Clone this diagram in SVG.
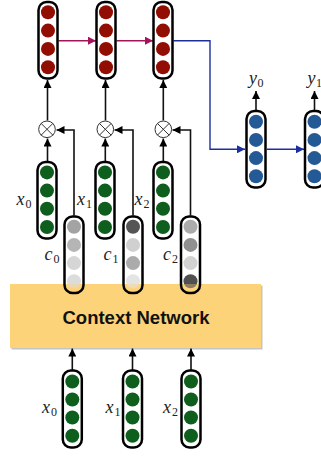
<svg xmlns="http://www.w3.org/2000/svg" width="321" height="457" viewBox="0 0 321 457">
<style>
.col{fill:none;stroke:#000;stroke-width:2.5}
.colw{fill:#fff;stroke:#000;stroke-width:2.5}
.r{fill:#920d02}
.g{fill:#0e5e1d}
.b{fill:#235995}
.k{fill:none;stroke:#111;stroke-width:1.6}
.rl{fill:none;stroke:#a3145a;stroke-width:1.4}
.bl{fill:none;stroke:#1c2f9e;stroke-width:1.4}
.lbl{font-family:"Liberation Serif","DejaVu Serif","Times New Roman",serif;font-style:italic;font-size:18px;fill:#222}
.sub{font-style:normal;font-size:12px}
.title{font-family:"Liberation Sans",Arial,sans-serif;font-weight:bold;font-size:18.5px;fill:#111}
.ot{fill:#fff;stroke:#333;stroke-width:1}
</style>
<defs>
<marker id="ak" markerUnits="userSpaceOnUse" markerWidth="8" markerHeight="8" refX="8" refY="4" orient="auto"><path d="M0,0 L8,4 L0,8 z" fill="#000"/></marker>
<marker id="ar" markerUnits="userSpaceOnUse" markerWidth="8" markerHeight="8" refX="8" refY="4" orient="auto"><path d="M0,0 L8,4 L0,8 z" fill="#a3145a"/></marker>
<marker id="ab" markerUnits="userSpaceOnUse" markerWidth="8" markerHeight="8" refX="8" refY="4" orient="auto"><path d="M0,0 L8,4 L0,8 z" fill="#1c2f9e"/></marker>
</defs>

<g id="context-network">
<rect x="11.5" y="285.5" width="251" height="64" fill="#c4c4c4"/>
<rect x="10" y="284" width="251" height="64" fill="#fdd37a"/>
<text class="title" x="136" y="324" text-anchor="middle">Context Network</text>
</g>

<g id="connectors">
<line class="k" x1="47.5" y1="161" x2="47.5" y2="138.5" marker-end="url(#ak)"/>
<line class="k" x1="105.3" y1="161" x2="105.3" y2="138.5" marker-end="url(#ak)"/>
<line class="k" x1="163.3" y1="161" x2="163.3" y2="138.5" marker-end="url(#ak)"/>
<polyline class="k" points="74,215.5 74,130 56.5,130" marker-end="url(#ak)"/>
<polyline class="k" points="133,215.5 133,130 114.5,130" marker-end="url(#ak)"/>
<polyline class="k" points="190.5,215.5 190.5,130 172.5,130" marker-end="url(#ak)"/>
<line class="k" x1="47.5" y1="120.5" x2="47.5" y2="80" marker-end="url(#ak)"/>
<line class="k" x1="105.5" y1="120.5" x2="105.5" y2="80" marker-end="url(#ak)"/>
<line class="k" x1="163.3" y1="120.5" x2="163.3" y2="80" marker-end="url(#ak)"/>
<line class="rl" x1="58.5" y1="40.7" x2="96" y2="40.7" marker-end="url(#ar)"/>
<line class="rl" x1="116.5" y1="40.7" x2="153" y2="40.7" marker-end="url(#ar)"/>
<polyline class="bl" points="173.5,40.7 210,40.7 210,149.3 245,149.3" marker-end="url(#ab)"/>
<line class="bl" x1="267" y1="149.3" x2="304" y2="149.3" marker-end="url(#ab)"/>
<line class="k" x1="256" y1="110" x2="256" y2="91" marker-end="url(#ak)"/>
<line class="k" x1="314.5" y1="110" x2="314.5" y2="91" marker-end="url(#ak)"/>
<line class="k" x1="72.3" y1="370" x2="72.3" y2="348.5" marker-end="url(#ak)"/>
<line class="k" x1="132.5" y1="370" x2="132.5" y2="348.5" marker-end="url(#ak)"/>
<line class="k" x1="191" y1="370" x2="191" y2="348.5" marker-end="url(#ak)"/>
</g>

<g id="h0"><rect class="colw" x="38.5" y="2" width="19" height="76.5" rx="8"/>
<circle class="r" cx="48" cy="12.3" r="7"/><circle class="r" cx="48" cy="30.6" r="7"/><circle class="r" cx="48" cy="48.9" r="7"/><circle class="r" cx="48" cy="67.2" r="7"/></g>
<g id="h1"><rect class="colw" x="96.5" y="2" width="19" height="76.5" rx="8"/>
<circle class="r" cx="106" cy="12.3" r="7"/><circle class="r" cx="106" cy="30.6" r="7"/><circle class="r" cx="106" cy="48.9" r="7"/><circle class="r" cx="106" cy="67.2" r="7"/></g>
<g id="h2"><rect class="colw" x="153.5" y="2" width="19" height="76.5" rx="8"/>
<circle class="r" cx="163" cy="12.3" r="7"/><circle class="r" cx="163" cy="30.6" r="7"/><circle class="r" cx="163" cy="48.9" r="7"/><circle class="r" cx="163" cy="67.2" r="7"/></g>

<g id="m0"><circle class="ot" cx="47" cy="129.3" r="8.3"/><path d="M41.1,123.4 L52.9,135.2 M52.9,123.4 L41.1,135.2" stroke="#333" stroke-width="1"/></g>
<g id="m1"><circle class="ot" cx="105.3" cy="129.3" r="8.3"/><path d="M99.4,123.4 L111.2,135.2 M111.2,123.4 L99.4,135.2" stroke="#333" stroke-width="1"/></g>
<g id="m2"><circle class="ot" cx="163.3" cy="129.3" r="8.3"/><path d="M157.4,123.4 L169.2,135.2 M169.2,123.4 L157.4,135.2" stroke="#333" stroke-width="1"/></g>

<g id="xa0"><rect class="colw" x="37.5" y="162" width="19" height="76.5" rx="8"/>
<circle class="g" cx="47" cy="172.4" r="7"/><circle class="g" cx="47" cy="190.6" r="7"/><circle class="g" cx="47" cy="208.8" r="7"/><circle class="g" cx="47" cy="227" r="7"/>
<text class="lbl" x="16.5" y="204.5">x<tspan class="sub" dx="1" dy="3">0</tspan></text></g>
<g id="xa1"><rect class="colw" x="95.5" y="162" width="19" height="76.5" rx="8"/>
<circle class="g" cx="105" cy="172.4" r="7"/><circle class="g" cx="105" cy="190.6" r="7"/><circle class="g" cx="105" cy="208.8" r="7"/><circle class="g" cx="105" cy="227" r="7"/>
<text class="lbl" x="77" y="204.5">x<tspan class="sub" dx="1" dy="3">1</tspan></text></g>
<g id="xa2"><rect class="colw" x="153.5" y="162" width="19" height="76.5" rx="8"/>
<circle class="g" cx="163" cy="172.4" r="7"/><circle class="g" cx="163" cy="190.6" r="7"/><circle class="g" cx="163" cy="208.8" r="7"/><circle class="g" cx="163" cy="227" r="7"/>
<text class="lbl" x="134.5" y="204.5">x<tspan class="sub" dx="1" dy="3">2</tspan></text></g>

<g id="c0"><rect x="65" y="216.5" width="18" height="76" rx="8" fill="#fff"/>
<rect x="65" y="284" width="18" height="8.5" fill="#fdd37a"/>
<circle cx="74" cy="226.7" r="7" fill="#a3a3a3"/><circle cx="74" cy="244.9" r="7" fill="#b5b5b5"/><circle cx="74" cy="263.1" r="7" fill="#d6d6d6"/><circle cx="74" cy="281.3" r="7" fill="#dcdcdc"/>
<rect x="66" y="284" width="16" height="8" fill="#fdd37a" opacity="0.45"/>
<rect class="col" x="64.5" y="216.5" width="19" height="76.5" rx="8"/>
<text class="lbl" x="44.5" y="259.5">c<tspan class="sub" dx="1" dy="3">0</tspan></text></g>
<g id="c1"><rect x="124" y="216.5" width="18" height="76" rx="8" fill="#fff"/>
<rect x="124" y="284" width="18" height="8.5" fill="#fdd37a"/>
<circle cx="133" cy="226.7" r="7" fill="#555"/><circle cx="133" cy="244.9" r="7" fill="#d0d0d0"/><circle cx="133" cy="263.1" r="7" fill="#ababab"/><circle cx="133" cy="281.3" r="7" fill="#e4e4e4"/>
<rect x="125" y="284" width="16" height="8" fill="#fdd37a" opacity="0.45"/>
<rect class="col" x="123.5" y="216.5" width="19" height="76.5" rx="8"/>
<text class="lbl" x="103.5" y="259.5">c<tspan class="sub" dx="1" dy="3">1</tspan></text></g>
<g id="c2"><rect x="181.5" y="216.5" width="18" height="76" rx="8" fill="#fff"/>
<rect x="181.5" y="284" width="18" height="8.5" fill="#fdd37a"/>
<circle cx="190.5" cy="226.7" r="7" fill="#ababab"/><circle cx="190.5" cy="244.9" r="7" fill="#909090"/><circle cx="190.5" cy="263.1" r="7" fill="#d2d2d2"/><circle cx="190.5" cy="281.3" r="7" fill="#505050"/>
<rect x="182.5" y="284" width="16" height="8" fill="#fdd37a" opacity="0.35"/>
<rect class="col" x="181" y="216.5" width="19" height="76.5" rx="8"/>
<text class="lbl" x="163" y="259.5">c<tspan class="sub" dx="1" dy="3">2</tspan></text></g>

<g id="y0"><rect class="colw" x="246.5" y="111" width="19" height="76.5" rx="8"/>
<circle class="b" cx="256" cy="121.7" r="7" /><circle class="b" cx="256" cy="139.9" r="7"/><circle class="b" cx="256" cy="158.1" r="7"/><circle class="b" cx="256" cy="176.3" r="7"/>
<text class="lbl" x="249" y="84">y<tspan class="sub" dx="0.5" dy="3">0</tspan></text></g>
<g id="y1"><rect class="colw" x="305" y="111" width="19" height="76.5" rx="8"/>
<circle class="b" cx="314.5" cy="121.7" r="7"/><circle class="b" cx="314.5" cy="139.9" r="7"/><circle class="b" cx="314.5" cy="158.1" r="7"/><circle class="b" cx="314.5" cy="176.3" r="7"/>
<text class="lbl" x="307.5" y="84">y<tspan class="sub" dx="0.5" dy="3">1</tspan></text></g>

<g id="xb0"><rect class="colw" x="62.8" y="370.5" width="19" height="77" rx="8"/>
<circle class="g" cx="72.3" cy="381.5" r="7"/><circle class="g" cx="72.3" cy="399.5" r="7"/><circle class="g" cx="72.3" cy="417.5" r="7"/><circle class="g" cx="72.3" cy="435.7" r="7"/>
<text class="lbl" x="42" y="412.5">x<tspan class="sub" dx="1" dy="3">0</tspan></text></g>
<g id="xb1"><rect class="colw" x="123" y="370.5" width="19" height="77" rx="8"/>
<circle class="g" cx="132.5" cy="381.5" r="7"/><circle class="g" cx="132.5" cy="399.5" r="7"/><circle class="g" cx="132.5" cy="417.5" r="7"/><circle class="g" cx="132.5" cy="435.7" r="7"/>
<text class="lbl" x="105.5" y="412.5">x<tspan class="sub" dx="1" dy="3">1</tspan></text></g>
<g id="xb2"><rect class="colw" x="181.5" y="370.5" width="19" height="77" rx="8"/>
<circle class="g" cx="191" cy="381.5" r="7"/><circle class="g" cx="191" cy="399.5" r="7"/><circle class="g" cx="191" cy="417.5" r="7"/><circle class="g" cx="191" cy="435.7" r="7"/>
<text class="lbl" x="163" y="412.5">x<tspan class="sub" dx="1" dy="3">2</tspan></text></g>
</svg>
